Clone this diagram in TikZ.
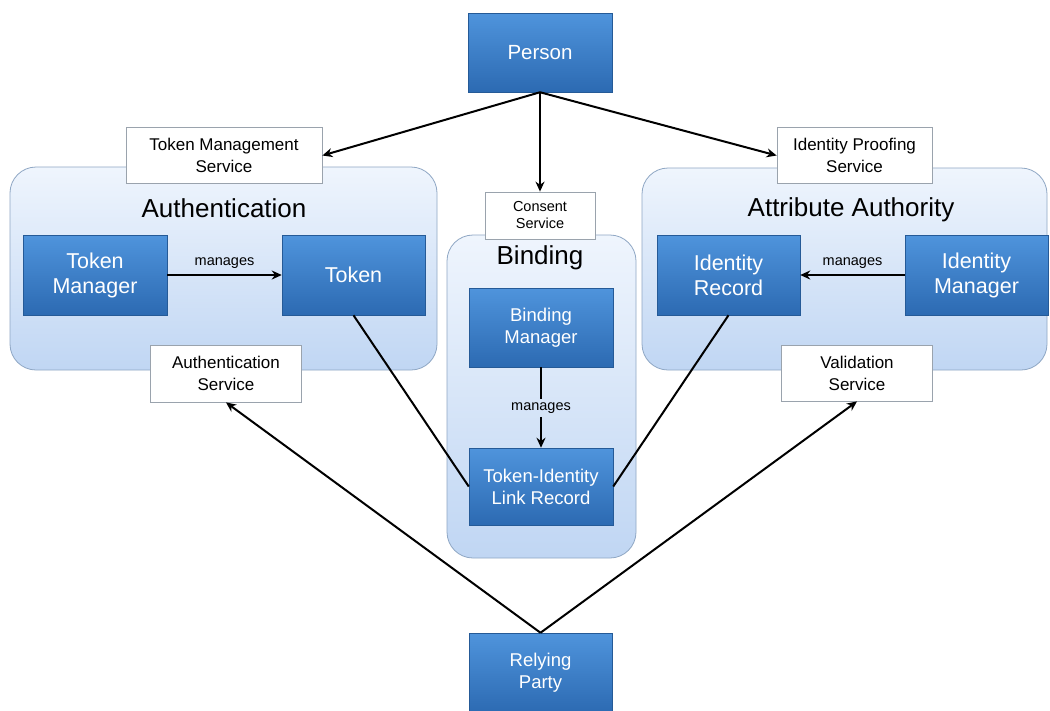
\documentclass[tikz,border=0pt]{standalone}
\usepackage{fontspec}
\setmainfont{Liberation Sans}
\usepackage{xcolor}
\usetikzlibrary{positioning,arrows.meta}
\definecolor{boxtop}{HTML}{4F94DC}
\definecolor{boxbot}{HTML}{2C6AB2}
\definecolor{grouptop}{HTML}{EFF5FD}
\definecolor{groupbot}{HTML}{C0D6F3}
\definecolor{groupline}{HTML}{8FA7C4}
\definecolor{serviceline}{HTML}{9AA3AD}

\begin{document}
\begin{tikzpicture}[x=1pt,y=-1pt,>={Stealth[length=10pt,width=9pt]},
    group/.style={draw=groupline,line width=0.8pt,rounded corners=26pt,
        top color=grouptop,bottom color=groupbot},
    grouptitle/.style={font=\fontsize{26}{30}\selectfont,anchor=base},
    bluebox/.style={draw=boxbot!85!black,line width=0.5pt,top color=boxtop,
        bottom color=boxbot,text=white,align=center,inner sep=0pt,
        minimum width=144pt,minimum height=80pt,font=\fontsize{21.5}{25}\selectfont},
    smallblue/.style={bluebox,font=\fontsize{18.5}{22}\selectfont},
    service/.style={draw=serviceline,line width=0.8pt,fill=white,align=center,
        inner sep=0pt,minimum width=151pt,minimum height=56pt,
        font=\fontsize{17}{22}\selectfont},
    link/.style={line width=2pt,black},
    lbl/.style={font=\fontsize{14.5}{16}\selectfont}]
    \useasboundingbox[fill=white] (0,0) rectangle (1050,710);

    % groups
    \node[group,minimum width=427pt,minimum height=203pt] (authgrp) at (223.5,268.5) {};
    \node[group,minimum width=189pt,minimum height=323pt] (bindgrp) at (541.5,396.5) {};
    \node[group,minimum width=405pt,minimum height=202pt] (attrgrp) at (844.5,269) {};
    \node[grouptitle] (authtitle) at (224,217) {Authentication};
    \node[grouptitle] (bindtitle) at (540,264) {Binding};
    \node[grouptitle] (attrtitle) at (851,216) {Attribute Authority};

    % services
    \node[service,minimum width=196pt] (tms) at (224,155.5) {Token Management\\Service};
    \node[service,minimum width=110pt,minimum height=47pt,font=\fontsize{14.5}{17}\selectfont]
        (consent) at (540,215.5) {Consent\\Service};
    \node[service,minimum width=155pt] (ips) at (854.5,155.5) {Identity Proofing\\Service};
    \node[service,minimum height=57pt] (auths) at (226,373.5) {Authentication\\Service};
    \node[service] (vals) at (857,373) {Validation\\Service};

    % boxes
    \node[bluebox,minimum height=79pt,font=\fontsize{20.5}{24}\selectfont] (person) at (540,52.5) {Person};
    \node[bluebox] (tokmgr) at (95,275) {Token\\Manager};
    \node[bluebox,minimum width=143pt] (token) at (353.5,275) {Token};
    \node[bluebox,minimum width=143pt] (idrec) at (728.5,275) {Identity\\Record};
    \node[bluebox,minimum width=143pt] (idmgr) at (976.5,275) {Identity\\Manager};
    \node[smallblue,minimum height=79pt] (bindmgr) at (541,327.5) {Binding\\Manager};
    \node[smallblue,minimum height=77pt] (tilr) at (541,486.5) {Token-Identity\\Link Record};
    \node[smallblue,minimum width=143pt] (rp) at (540.5,673) {Relying\\Party};
    \node[lbl] (bindlbl) at (541,408) {manages};

    % connectors
    \draw[link,->] (person.south) -- (tms.east);
    \draw[link,->] (person.south) -- (consent.north);
    \draw[link,->] (person.south) -- (ips.west);
    \draw[link,->] (tokmgr) -- node[lbl,above=2pt] {manages} (token);
    \draw[link,->] (idmgr) -- node[lbl,above=2pt] {manages} (idrec);
    \draw[link] (bindmgr) -- (bindlbl);
    \draw[link,->] (bindlbl) -- (tilr);
    \draw[link] (token.south) -- (tilr.west);
    \draw[link] (idrec.south) -- (tilr.east);
    \draw[link,->] (rp.north) -- (auths.south);
    \draw[link,->] (rp.north) -- (vals.south);
\end{tikzpicture}
\end{document}
